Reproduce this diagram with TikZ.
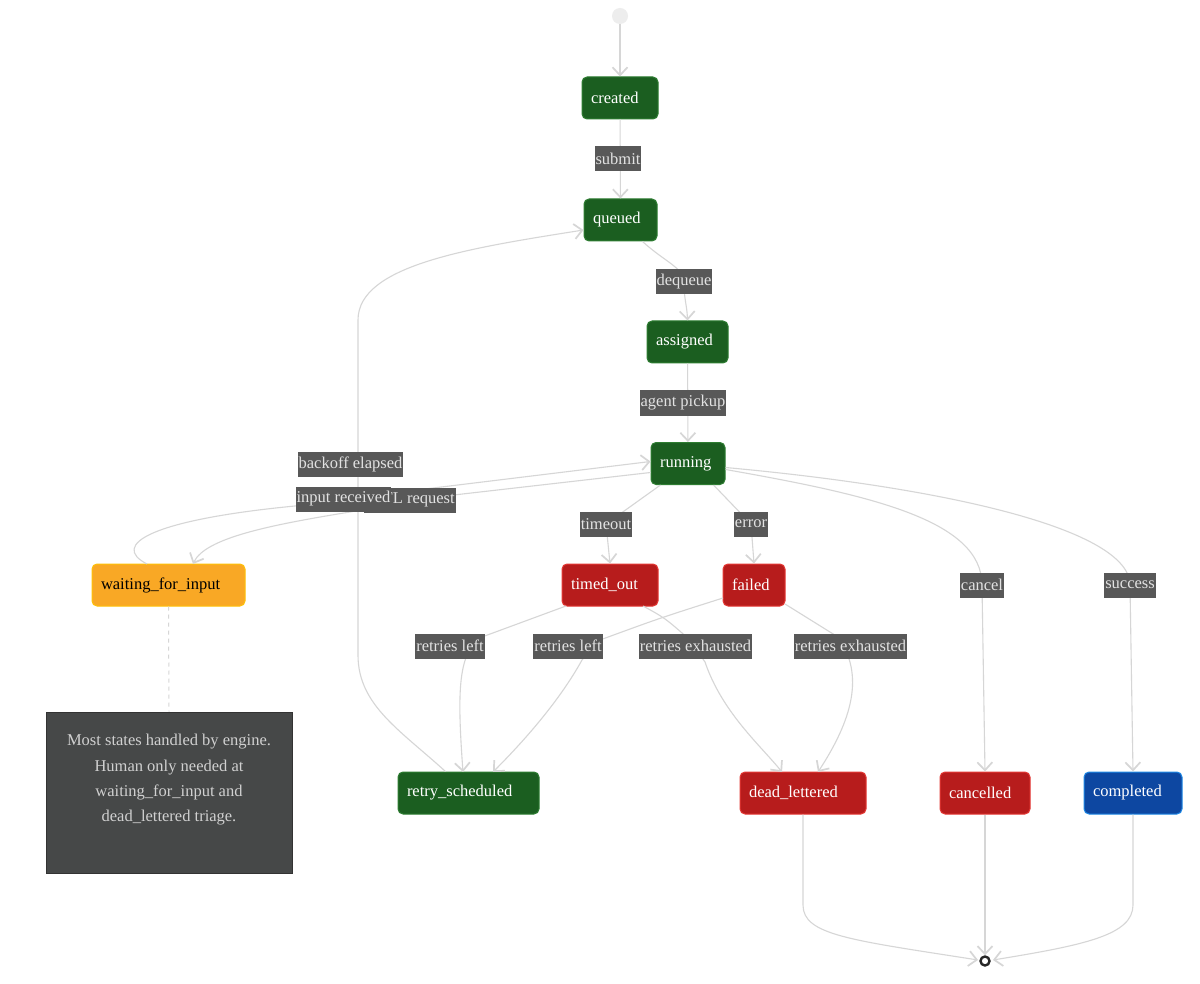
\documentclass[tikz,border=0pt]{standalone}
\usepackage{fontspec}
\setmainfont{Liberation Serif}
\usetikzlibrary{arrows.meta}
\definecolor{gfill}{HTML}{1B5E20}
\definecolor{gborder}{HTML}{2E7D32}
\definecolor{rfill}{HTML}{B71C1C}
\definecolor{rborder}{HTML}{E53935}
\definecolor{bfill}{HTML}{0D47A1}
\definecolor{bborder}{HTML}{1E88E5}
\definecolor{ofill}{HTML}{F9A825}
\definecolor{oborder}{HTML}{FFC107}
\definecolor{lblfill}{HTML}{585858}
\definecolor{lbltext}{HTML}{E2E2E2}
\definecolor{edgecol}{HTML}{D6D6D6}
\definecolor{notefill}{HTML}{464848}
\definecolor{noteborder}{HTML}{333333}
\definecolor{notetext}{HTML}{D0D0D0}
\newcommand{\diafont}{\rmfamily\fontsize{16.5}{20}\selectfont}
\tikzset{
  statebox/.style={draw, rounded corners=5pt, minimum height=42pt, inner ysep=0pt,
    inner xsep=9pt, align=left, font=\diafont, line width=1pt},
  gstate/.style={statebox, fill=gfill, draw=gborder, text=white},
  rstate/.style={statebox, fill=rfill, draw=rborder, text=white},
  bstate/.style={statebox, fill=bfill, draw=bborder, text=white},
  ostate/.style={statebox, fill=ofill, draw=oborder, text=black},
  elabel/.style={fill=lblfill, text=lbltext, inner xsep=1pt, inner ysep=0pt,
    minimum height=25pt, font=\diafont},
  edge/.style={draw=edgecol, line width=1.1pt,
    -{Straight Barb[length=8pt,width=15pt,line width=1.7pt]}},
}
\begin{document}
\begin{tikzpicture}[x=1pt,y=-1pt]
\useasboundingbox (0,0) rectangle (1200,984);
\fill[white] (0,0) rectangle (1200,984);

% states
\node[circle, fill=black!7, minimum size=16pt, inner sep=0pt] (start) at (620,16) {};
\node[gstate, text width=58pt] (created) at (620,98) {created};
\node[gstate, text width=55pt] (queued) at (620.5,220) {queued};
\node[gstate, text width=63pt] (assigned) at (687.5,342) {assigned};
\node[gstate, text width=56pt] (running) at (688,463.5) {running};
\node[ostate, text width=135pt] (waiting) at (168.5,585) {waiting\_for\_input};
\node[rstate, text width=78pt] (timedout) at (610,585) {timed\_out};
\node[rstate, text width=44pt] (failed) at (754,585) {failed};
\node[gstate, text width=123pt] (retry) at (468.5,793) {retry\_scheduled};
\node[rstate, text width=108pt] (dead) at (803,793) {dead\_lettered};
\node[rstate, text width=72pt] (cancelled) at (985,793) {cancelled};
\node[bstate, text width=80pt] (completed) at (1133,793) {completed};
\node[circle, draw=black!85, line width=2.4pt, fill=white, minimum size=9pt, inner sep=0pt] (end) at (985,961) {};

% note
\node[draw=noteborder, fill=notefill, minimum width=246pt, minimum height=161pt, line width=0.8pt] (note) at (169,792.5) {};
\node[text=notetext, align=center, font=\rmfamily\fontsize{16.5}{25.3}\selectfont] (notetext) at (169,780)
  {Most states handled by engine.\\Human only needed at\\waiting\_for\_input and\\dead\_lettered triage.};
\draw[edgecol, line width=1pt, dash pattern=on 4pt off 4pt] (waiting.south) -- (note.north);

% edges
\draw[edge] (start) -- (created);
\draw[edge] (created) -- (queued);
\draw[edge] (queued.south) ++(22,0) .. controls (665,262) and (684,268) .. (684,282) .. controls (684,300) and (687,305) .. (assigned.north);
\draw[edge] (assigned) -- (running);
\draw[edge] (running.south west) ++(10,0) -- (606,524) -- (timedout.north);
\draw[edge] (running.south east) ++(-12,0) -- (751,524) -- (failed.north);
\draw[edge] (running.east) ++(0,6) .. controls (870,495) and (982,520) .. (982,585) -- (cancelled.north);
\draw[edge] (running.east) ++(0,4) .. controls (950,488) and (1130,530) .. (1130,585) -- (completed.north);
% HITL request (running -> waiting)
\draw[edge] (running.west) ++(0,9) -- (410,500) -- (350,512) .. controls (270,525) and (205,538) .. (193,564);
% input received (waiting -> running)
\draw[edge] (147,564) .. controls (110,545) and (150,520) .. (295,506) -- (343,499) -- ([yshift=2pt]running.west);
% backoff elapsed (retry -> queued)
\draw[edge] (retry.north) ++(-23,0) .. controls (400,730) and (358,705) .. (358,655) -- (358,320) .. controls (358,265) and (470,248) .. ([yshift=-10pt]queued.west);
% retries left
\draw[edge] (566,606) -- (482,637) .. controls (458,652) and (457,690) .. (463,772);
\draw[edge] (723,598) .. controls (660,618) .. (600,640) -- (582,660) .. controls (560,700) and (525,740) .. (493,772);
% retries exhausted
\draw[edge] (643,606) .. controls (665,618) .. (690,640) -- (705,662) .. controls (722,712) and (760,745) .. (782,772);
\draw[edge] (785,604) -- (838,637) .. controls (865,675) and (852,720) .. (818,772);
% to end
\draw[edge] (dead.south) -- (803,905) .. controls (803,935) and (850,940) .. (978,960);
\draw[edge] (cancelled.south) -- (end.north);
\draw[edge] (completed.south) -- (1133,905) .. controls (1133,935) and (1085,945) .. (993,960);

% labels
\node[elabel] (lsubmit) at (618,159) {submit};
\node[elabel] (ldequeue) at (684,282) {dequeue};
\node[elabel] (lpickup) at (683,403) {agent pickup};
\node[elabel] (lbackoff) at (350.5,464) {backoff elapsed};
\node[elabel] (lhitl) at (410,500) {HITL request};
\node[elabel] (linput) at (343.5,499) {input received};
\node[elabel] (ltimeout) at (606,524) {timeout};
\node[elabel] (lerror) at (751,524) {error};
\node[elabel] (lcancel) at (982,585) {cancel};
\node[elabel] (lsuccess) at (1130,585) {success};
\node[elabel] (lleft1) at (450,646) {retries left};
\node[elabel] (lleft2) at (568,646) {retries left};
\node[elabel] (lexh1) at (695.5,646) {retries exhausted};
\node[elabel] (lexh2) at (850.5,646) {retries exhausted};
\end{tikzpicture}
\end{document}
